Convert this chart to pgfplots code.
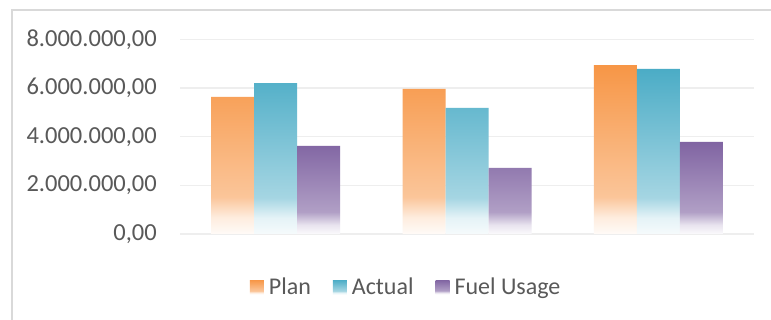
\documentclass[border=0pt]{standalone}
\usepackage{pgfplots}
\pgfplotsset{compat=1.18}
\usepackage{fontspec}
\setmainfont{Carlito}
\definecolor{cplan}{HTML}{F79646}
\definecolor{cact}{HTML}{4BACC6}
\definecolor{cfuel}{HTML}{8064A2}
\definecolor{txt}{HTML}{595959}
\definecolor{gridc}{HTML}{EEEEEE}
\definecolor{borderc}{HTML}{D9D9D9}
\pgfdeclareverticalshading{planshade}{100bp}{color(0bp)=(cplan!4); color(25bp)=(cplan!4); color(30bp)=(cplan!18); color(36bp)=(cplan!55); color(75bp)=(cplan); color(100bp)=(cplan)}
\pgfdeclareverticalshading{actshade}{100bp}{color(0bp)=(cact!5); color(25bp)=(cact!5); color(30bp)=(cact!15); color(36bp)=(cact!50); color(75bp)=(cact); color(100bp)=(cact)}
\pgfdeclareverticalshading{fuelshade}{100bp}{color(0bp)=(cfuel!3); color(25bp)=(cfuel!3); color(30bp)=(cfuel!18); color(37bp)=(cfuel!62); color(75bp)=(cfuel); color(100bp)=(cfuel)}
\begin{document}
\begin{tikzpicture}
\useasboundingbox (0,0) rectangle (771bp,320bp);
\clip (0,0) rectangle (771bp,320bp);
\fill[white] (0,0) rectangle (771bp,320bp);
\draw[borderc, line width=1.5bp] (12bp,-20bp) rectangle (800bp,310bp);
\begin{axis}[
  at={(180bp,86bp)}, anchor=south west,
  scale only axis, width=574bp, height=194.5bp,
  xmin=-0.5, xmax=2.5, ymin=0, ymax=8000000,
  ybar=0pt, bar width=43bp,
  xtick=\empty,
  ytick={0,2000000,4000000,6000000,8000000},
  scaled y ticks=false,
  axis line style={draw=none},
  major tick length=0pt,
  ymajorgrids, grid style={gridc, line width=1.5bp},
  yticklabel style={font=\fontsize{24.5bp}{28bp}\selectfont, text=txt, inner sep=0pt, xshift=-23bp},
  /pgf/number format/.cd, fixed, fixed zerofill, precision=2, use comma, 1000 sep={.}, assume math mode=true,
  /pgfplots/.cd,
  legend columns=3,
  legend style={draw=none, fill=none, at={(0.394,-0.2725)}, anchor=center,
    font=\fontsize{24bp}{28bp}\selectfont, text=txt,
    /tikz/every even column/.append style={column sep=20bp},
    /tikz/every odd column/.append style={column sep=3bp}},
  legend image code/.code={\path[#1, draw=none] (0bp,-7bp) rectangle (14bp,7bp);},
]
\addplot[draw=none, shade, shading=planshade] coordinates {(0,5640000) (1,5970000) (2,6950000)};
\addplot[draw=none, shade, shading=actshade] coordinates {(0,6210000) (1,5190000) (2,6790000)};
\addplot[draw=none, shade, shading=fuelshade] coordinates {(0,3620000) (1,2720000) (2,3790000)};
\legend{Plan, Actual, Fuel Usage}
\end{axis}
\end{tikzpicture}
\end{document}
